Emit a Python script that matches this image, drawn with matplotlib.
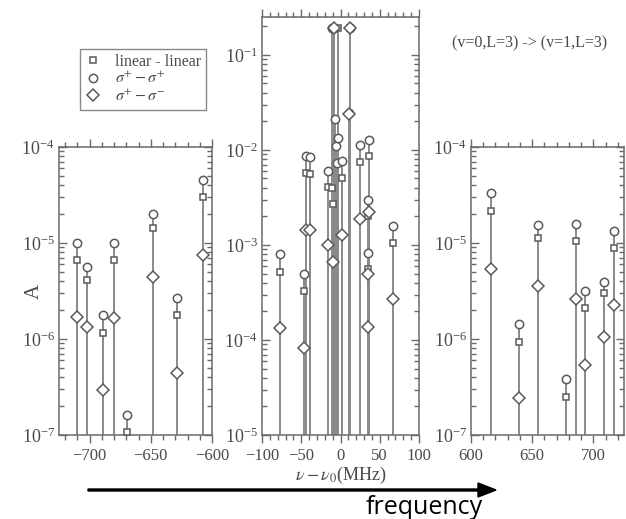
import numpy as np
import matplotlib
matplotlib.use('Agg')
import matplotlib.pyplot as plt
from matplotlib.ticker import LogLocator, MultipleLocator, LogFormatterSciNotation, NullFormatter
from matplotlib.lines import Line2D

plt.rcParams['font.family'] = ['Liberation Serif', 'DejaVu Serif']
plt.rcParams['mathtext.fontset'] = 'stix'

nan = np.nan

# ---------------- data ----------------
left_x = [-710, -702, -689, -680, -669.5, -648, -629, -607.5]
left_circ = [1.0e-5, 5.6e-6, 1.77e-6, 1.0e-5, 1.62e-7, 2.0e-5, 2.65e-6, 4.5e-5]
left_sq = [6.7e-6, 4.1e-6, 1.16e-6, 6.6e-6, 1.07e-7, 1.44e-5, 1.77e-6, 3.0e-5]
left_dia = [1.7e-6, 1.33e-6, 2.95e-7, 1.64e-6, nan, 4.4e-6, 4.4e-7, 7.5e-6]

center_x = [-77, -47, -44, -38.5, -16.5, -11, -10, -8, -7, -6, -5, -3, 1.5,
            11, 11.5, 25, 34.5, 35.5, 36, 67]
center_circ = [8.0e-4, 5.0e-4, 8.6e-3, 8.4e-3, 6.0e-3, 0.19, nan, 0.19, 0.021, 0.011, 7.3e-3,
               0.0133, 7.6e-3, 0.0245, 0.19, 0.0113, 3.0e-3, 8.3e-4, 0.0127, 1.6e-3]
center_sq = [5.2e-4, 3.3e-4, 5.7e-3, 5.6e-3, 4.1e-3, 4.0e-3, 2.7e-3, 0.19, nan, nan, nan,
             0.19, 5.0e-3, nan, 0.19, 7.5e-3, 2.0e-3, 5.6e-4, 8.6e-3, 1.06e-3]
center_dia = [1.34e-4, 8.3e-5, 1.45e-3, 1.42e-3, 1.0e-3, nan, 6.6e-4, 0.19, nan, nan, nan,
              nan, 1.28e-3, 0.024, 0.19, 1.87e-3, 5.0e-4, 1.38e-4, 2.2e-3, 2.7e-4]

right_x = [616, 639, 654.5, 677.5, 685.5, 693.5, 708.5, 717]
right_circ = [3.3e-5, 1.42e-6, 1.53e-5, 3.8e-7, 1.58e-5, 3.16e-6, 3.9e-6, 1.34e-5]
right_sq = [2.14e-5, 9.4e-7, 1.12e-5, 2.5e-7, 1.06e-5, 2.1e-6, 3.0e-6, 8.9e-6]
right_dia = [5.4e-6, 2.4e-7, 3.6e-6, nan, 2.63e-6, 5.3e-7, 1.05e-6, 2.26e-6]

left_xticks = [-700, -650, -600]
center_xticks = [-100, -50, 0, 50, 100]
right_xticks = [600, 650, 700]

legend_labels = ['linear - linear', r'$\sigma^{+}-\sigma^{+}$', r'$\sigma^{+}-\sigma^{-}$']
title_text = '(v=0,L=3) -> (v=1,L=3)'
ylabel_text = 'A'
xlabel_text = r'$\nu-\nu_0$(MHz)'

# ---------------- style ----------------
W, H = 626, 519
fig = plt.figure(figsize=(W / 100, H / 100), dpi=100)

def fbox(x0, y0, x1, y1):
    return [x0 / W, 1 - y1 / H, (x1 - x0) / W, (y1 - y0) / H]

line_c = '#8a8a8a'
mark_c = '#5a5a5a'
text_c = '#4a4a4a'
spine_c = '#6a6a6a'

def panel(rect, xs, c, s, d, xlim, ylim, xticks):
    ax = fig.add_axes(rect)
    ax.set_yscale('log')
    ax.set_xlim(*xlim)
    ax.set_ylim(*ylim)
    xs = np.asarray(xs, float)
    c = np.asarray(c, float); s = np.asarray(s, float); d = np.asarray(d, float)
    top = np.nanmax(np.vstack([c, s, d]), axis=0)
    ax.vlines(xs, ylim[0], top, color=line_c, lw=1.4, zorder=2)
    ax.plot(xs, s, ls='none', marker='s', ms=5, mfc='white', mec=mark_c, mew=1.1, zorder=3)
    ax.plot(xs, c, ls='none', marker='o', ms=6, mfc='white', mec=mark_c, mew=1.1, zorder=3)
    ax.plot(xs, d, ls='none', marker='D', ms=6.5, mfc='white', mec=mark_c, mew=1.1, zorder=3)
    ax.set_xticks(xticks)
    ax.xaxis.set_minor_locator(MultipleLocator(10))
    ax.yaxis.set_major_locator(LogLocator(base=10, numticks=20))
    ax.yaxis.set_minor_locator(LogLocator(base=10, subs=np.arange(2, 10), numticks=20))
    ax.yaxis.set_major_formatter(LogFormatterSciNotation())
    ax.yaxis.set_minor_formatter(NullFormatter())
    ax.tick_params(axis='x', which='both', direction='out', top=True, bottom=True,
                   labelsize=12, colors=spine_c, labelcolor=text_c, pad=3)
    ax.tick_params(axis='x', which='major', length=6, width=1)
    ax.tick_params(axis='x', which='minor', length=3.5, width=1)
    ax.tick_params(axis='y', which='both', direction='in', left=True, right=True,
                   labelsize=13, colors=spine_c, labelcolor=text_c, pad=3)
    ax.tick_params(axis='y', which='major', length=6, width=1)
    ax.tick_params(axis='y', which='minor', length=3.5, width=1)
    for sp in ax.spines.values():
        sp.set_color(spine_c)
        sp.set_linewidth(1.1)
    return ax

axL = panel(fbox(59, 147, 212, 435), left_x, left_circ, left_sq, left_dia,
            (-725, -600), (1e-7, 1e-4), left_xticks)
axC = panel(fbox(262, 17, 419, 435), center_x, center_circ, center_sq, center_dia,
            (-100, 100), (1e-5, 0.25), center_xticks)
axR = panel(fbox(471, 147, 624, 435), right_x, right_circ, right_sq, right_dia,
            (600, 725), (1e-7, 1e-4), right_xticks)

fig.text(34 / W, 1 - 291 / H, ylabel_text, fontsize=15, color=text_c,
         rotation=90, ha='center', va='center')
axC.set_xlabel(xlabel_text, fontsize=13, color=text_c, labelpad=1)

fig.text(530 / W, 1 - 43 / H, title_text, fontsize=11.5, color=text_c,
         ha='center', va='center')

handles = [Line2D([], [], ls='none', marker='s', ms=5, mfc='white', mec=mark_c, mew=1.1),
           Line2D([], [], ls='none', marker='o', ms=6, mfc='white', mec=mark_c, mew=1.1),
           Line2D([], [], ls='none', marker='D', ms=6.5, mfc='white', mec=mark_c, mew=1.1)]
leg = fig.legend(handles, legend_labels, loc='upper left',
                 bbox_to_anchor=(80 / W, 1 - 49 / H), frameon=True, fancybox=False,
                 edgecolor=spine_c, fontsize=11.5, handlelength=1.0, handletextpad=0.9,
                 borderpad=0.3, labelspacing=0.1, borderaxespad=0)
leg.get_frame().set_linewidth(1.0)
for t in leg.get_texts():
    t.set_color(text_c)

# frequency arrow
fig.patches.append(matplotlib.patches.FancyArrow(
    88 / W, 1 - 490 / H, (478 - 88) / W, 0, width=2.0 / H, head_width=14 / H,
    head_length=18 / W, length_includes_head=False, color='black',
    transform=fig.transFigure, figure=fig))
fig.text(424 / W, 1 - 507 / H, 'frequency', fontsize=18, color='black',
         family=['Open Sans', 'DejaVu Sans'], ha='center', va='center')

fig.savefig('out.png', dpi=100)
